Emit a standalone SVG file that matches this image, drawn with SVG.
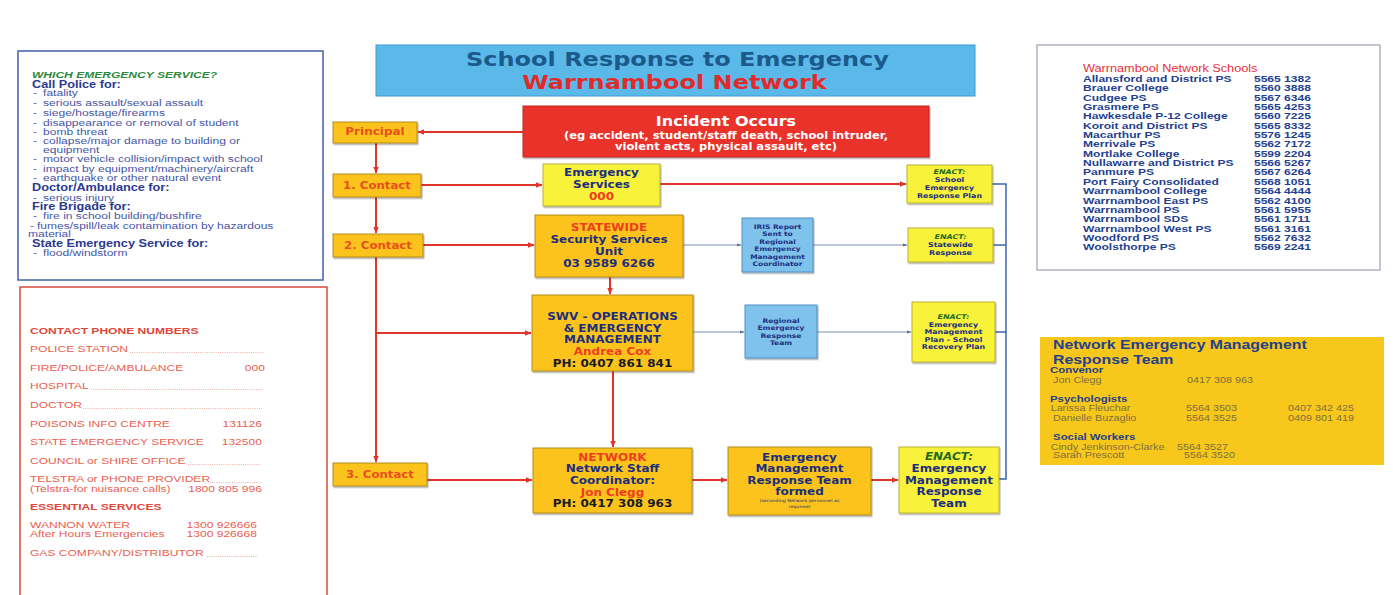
<svg xmlns="http://www.w3.org/2000/svg" width="1393" height="595" viewBox="0 0 1393 595">
<style>
.f{font-family:"DejaVu Sans",sans-serif;font-weight:bold}
.fr{font-family:"DejaVu Sans",sans-serif}
.a{font-family:"Liberation Sans",Arial,sans-serif}
.ab{font-family:"Liberation Sans",Arial,sans-serif;font-weight:bold}
.nv{fill:#1c2f7e}
.rd{fill:#ee3d1f}
.bk{fill:#1a1a28}
.gn{fill:#1e6a22;font-style:italic}
.lbl{fill:#e8501c}
.or{fill:#fbc31c;stroke:#b08d22;stroke-width:1}
.ye{fill:#f9f23b;stroke:#b9b030;stroke-width:1}
.bl{fill:#7fc2ec;stroke:#4f8fc4;stroke-width:1}
.sh{filter:url(#sh)}
.red{stroke:#e0352b;stroke-width:2;fill:none}
.gry{stroke:#7a8fb0;stroke-width:1;fill:none}
.bus{stroke:#3b64b0;stroke-width:1.5;fill:none}
.dots{stroke:#e9a090;stroke-width:0.9;stroke-dasharray:0.9 1.3}
.lt{fill:#4656a6}
.lh{fill:#2b3990}
.pr{fill:#e8604f}
.pb{fill:#e0453a}
.sc{fill:#233f8f}
.ym{fill:#7d7040}
.yh{fill:#24408a}
</style>
<defs>
<filter id="sh" x="-10%" y="-10%" width="130%" height="130%"><feDropShadow dx="1" dy="1.5" stdDeviation="0.7" flood-color="#000" flood-opacity="0.3"/></filter>
<marker id="ar" viewBox="0 0 10 10" refX="9" refY="5" markerWidth="3.5" markerHeight="3.5" orient="auto"><path d="M0,1 L10,5 L0,9z" fill="#e0352b"/></marker>
<marker id="ag" viewBox="0 0 10 10" refX="9" refY="5" markerWidth="5" markerHeight="5" orient="auto"><path d="M0,1.5 L10,5 L0,8.5z" fill="#5a6f98"/></marker>
</defs>
<rect width="1393" height="595" fill="#fff"/>

<!-- Left top panel -->
<g id="which-service">
<rect x="18" y="51" width="305" height="229" fill="#fff" stroke="#4060a8" stroke-width="1.5"/>
<g transform="matrix(1.27 0 0 1 -8.64 0)" font-size="9.5">
<text class="ab gn" x="32" y="78.4" style="fill:#2d8a3a">WHICH EMERGENCY SERVICE?</text>
<text class="ab lh" x="32" y="88.5" font-size="10">Call Police for:</text>
<g class="a lt">
<text x="32.8" y="96.5">-</text><text x="40.7" y="96.5">fatality</text>
<text x="32.8" y="106.5">-</text><text x="40.7" y="106.5">serious assault/sexual assault</text>
<text x="32.8" y="116.5">-</text><text x="40.7" y="116.5">siege/hostage/firearms</text>
<text x="32.8" y="126.5">-</text><text x="40.7" y="126.5">disappearance or removal of student</text>
<text x="32.8" y="135.5">-</text><text x="40.7" y="135.5">bomb threat</text>
<text x="32.8" y="144.5">-</text><text x="40.7" y="144.5">collapse/major damage to building or</text>
<text x="40.7" y="153.5">equipment</text>
<text x="32.8" y="162.5">-</text><text x="40.7" y="162.5">motor vehicle collision/impact with school</text>
<text x="32.8" y="172.5">-</text><text x="40.7" y="172.5">impact by equipment/machinery/aircraft</text>
<text x="32.8" y="181.5">-</text><text x="40.7" y="181.5">earthquake or other natural event</text>
</g>
<text class="ab lh" x="32" y="191.5" font-size="10">Doctor/Ambulance for:</text>
<g class="a lt">
<text x="32.8" y="201.5">-</text><text x="40.7" y="201.5">serious injury</text>
</g>
<text class="ab lh" x="32" y="210.5" font-size="10">Fire Brigade for:</text>
<g class="a lt">
<text x="32.8" y="219.5">-</text><text x="40.7" y="219.5">fire in school building/bushfire</text>
<text x="30.4" y="229.5">-</text><text x="35.9" y="229.5">fumes/spill/leak contamination by hazardous</text>
<text x="28.9" y="237.5">material</text>
</g>
<text class="ab lh" x="32" y="247.5" font-size="10">State Emergency Service for:</text>
<g class="a lt">
<text x="32.8" y="256.5">-</text><text x="40.7" y="256.5">flood/windstorm</text>
</g>
</g>
</g>

<!-- Left bottom panel -->
<g id="contact-numbers">
<rect x="20" y="287" width="307" height="320" fill="#fff" stroke="#d84a3c" stroke-width="1.5"/>
<g class="dots">
<line x1="130" y1="352.5" x2="263" y2="352.5"/>
<line x1="91" y1="389.5" x2="263" y2="389.5"/>
<line x1="83" y1="408.5" x2="263" y2="408.5"/>
<line x1="188" y1="464.5" x2="260" y2="464.5"/>
<line x1="210" y1="482.5" x2="262" y2="482.5"/>
<line x1="207" y1="556.5" x2="258" y2="556.5"/>
</g>
<g transform="matrix(1.27 0 0 1 -8.1 0)" font-size="9.5">
<text class="ab pb" x="30" y="334.5">CONTACT PHONE NUMBERS</text>
<g class="a pr">
<text x="30" y="352.5">POLICE STATION</text>
<text x="30" y="371.5">FIRE/POLICE/AMBULANCE</text><text x="215" y="371.5" text-anchor="end">000</text>
<text x="30" y="389.5">HOSPITAL</text>
<text x="30" y="408.5">DOCTOR</text>
<text x="30" y="427.5">POISONS INFO CENTRE</text><text x="212.6" y="427.5" text-anchor="end">131126</text>
<text x="30" y="445.5">STATE EMERGENCY SERVICE</text><text x="212.6" y="445.5" text-anchor="end">132500</text>
<text x="30" y="464.5">COUNCIL or SHIRE OFFICE</text>
<text x="30" y="482.5">TELSTRA or PHONE PROVIDER</text>
<text x="30" y="492.5">(Telstra-for nuisance calls)</text><text x="212.6" y="492.5" text-anchor="end">1800 805 996</text>
</g>
<text class="ab pb" x="30" y="510.5">ESSENTIAL SERVICES</text>
<g class="a pr">
<text x="30" y="528.5">WANNON WATER</text><text x="208.7" y="528.5" text-anchor="end">1300 926666</text>
<text x="30" y="537.5">After Hours Emergencies</text><text x="208.7" y="537.5" text-anchor="end">1300 926668</text>
<text x="30" y="556.5">GAS COMPANY/DISTRIBUTOR</text>
</g>
</g>
</g>

<!-- Right top panel -->
<g id="network-schools">
<rect x="1037" y="45" width="343" height="225" fill="#fff" stroke="#9aa0b0" stroke-width="1.2"/>
<g transform="matrix(1.27 0 0 1 -292.41 0)">
<text class="a" x="1083" y="72" font-size="10" fill="#e8303a">Warrnambool Network Schools</text>
<g class="ab sc" font-size="9.5">
<text x="1083" y="82">Allansford and District PS</text><text x="1217.6" y="82">5565 1382</text>
<text x="1083" y="91.35">Brauer College</text><text x="1217.6" y="91.35">5560 3888</text>
<text x="1083" y="100.7">Cudgee PS</text><text x="1217.6" y="100.7">5567 6346</text>
<text x="1083" y="110.05">Grasmere PS</text><text x="1217.6" y="110.05">5565 4253</text>
<text x="1083" y="119.4">Hawkesdale P-12 College</text><text x="1217.6" y="119.4">5560 7225</text>
<text x="1083" y="128.75">Koroit and District PS</text><text x="1217.6" y="128.75">5565 8332</text>
<text x="1083" y="138.1">Macarthur PS</text><text x="1217.6" y="138.1">5576 1245</text>
<text x="1083" y="147.45">Merrivale PS</text><text x="1217.6" y="147.45">5562 7172</text>
<text x="1083" y="156.8">Mortlake College</text><text x="1217.6" y="156.8">5599 2204</text>
<text x="1083" y="166.15">Nullawarre and District PS</text><text x="1217.6" y="166.15">5566 5267</text>
<text x="1083" y="175.5">Panmure PS</text><text x="1217.6" y="175.5">5567 6264</text>
<text x="1083" y="184.85">Port Fairy Consolidated</text><text x="1217.6" y="184.85">5568 1051</text>
<text x="1083" y="194.2">Warrnambool College</text><text x="1217.6" y="194.2">5564 4444</text>
<text x="1083" y="203.55">Warrnambool East PS</text><text x="1217.6" y="203.55">5562 4100</text>
<text x="1083" y="212.9">Warrnambool PS</text><text x="1217.6" y="212.9">5561 5955</text>
<text x="1083" y="222.25">Warrnambool SDS</text><text x="1217.6" y="222.25">5561 1711</text>
<text x="1083" y="231.6">Warrnambool West PS</text><text x="1217.6" y="231.6">5561 3161</text>
<text x="1083" y="240.95">Woodford PS</text><text x="1217.6" y="240.95">5562 7632</text>
<text x="1083" y="250.3">Woolsthorpe PS</text><text x="1217.6" y="250.3">5569 2241</text>
</g>
</g>
</g>

<!-- Right bottom panel -->
<g id="network-emrt">
<rect x="1040" y="337" width="344" height="128" fill="#f8c71b"/>
<g transform="matrix(1.27 0 0 1 -283.5 0)">
<text class="ab yh" x="1052.4" y="349.5" font-size="12.5">Network Emergency Management</text>
<text class="ab yh" x="1052.4" y="364.5" font-size="12.5">Response Team</text>
<text class="ab yh" x="1050" y="373" font-size="9">Convenor</text>
<text class="a ym" x="1052.4" y="383.5" font-size="8.5">Jon Clegg</text><text class="a ym" x="1157.9" y="383.5" font-size="8.5">0417 308 963</text>
<text class="ab yh" x="1050" y="402" font-size="9">Psychologists</text>
<text class="a ym" x="1050.5" y="411.5" font-size="8.5">Larissa Fleuchar</text><text class="a ym" x="1157.1" y="411.5" font-size="8.5">5564 3503</text><text class="a ym" x="1237.4" y="411.5" font-size="8.5">0407 342 425</text>
<text class="a ym" x="1052.4" y="421" font-size="8.5">Danielle Buzaglio</text><text class="a ym" x="1157.1" y="421" font-size="8.5">5564 3525</text><text class="a ym" x="1237.4" y="421" font-size="8.5">0409 801 419</text>
<text class="ab yh" x="1052.4" y="440" font-size="9">Social Workers</text>
<text class="a ym" x="1050.5" y="450" font-size="8.5">Cindy Jenkinson-Clarke</text><text class="a ym" x="1150" y="450" font-size="8.5">5564 3527</text>
<text class="a ym" x="1052.4" y="458.5" font-size="8.5">Sarah Prescott</text><text class="a ym" x="1155.5" y="458.5" font-size="8.5">5564 3520</text>
</g>
</g>

<!-- Connectors -->
<g id="connectors">
<line class="red" x1="523" y1="132" x2="418" y2="132" marker-end="url(#ar)"/>
<line class="red" x1="376" y1="143" x2="376" y2="173" marker-end="url(#ar)"/>
<line class="red" x1="376" y1="197" x2="376" y2="233" marker-end="url(#ar)"/>
<line class="red" x1="376" y1="257" x2="376" y2="462" marker-end="url(#ar)"/>
<line class="red" x1="376" y1="333" x2="531" y2="333" marker-end="url(#ar)"/>
<line class="red" x1="421" y1="185" x2="542" y2="185" marker-end="url(#ar)"/>
<line class="red" x1="660" y1="184" x2="906" y2="184" marker-end="url(#ar)"/>
<line class="red" x1="423" y1="245" x2="534" y2="245" marker-end="url(#ar)"/>
<line class="gry" x1="683" y1="245" x2="741" y2="245" marker-end="url(#ag)"/>
<line class="gry" x1="813" y1="245" x2="907" y2="245" marker-end="url(#ag)"/>
<line class="red" x1="610" y1="277" x2="610" y2="294" marker-end="url(#ar)"/>
<line class="gry" x1="693" y1="332" x2="744" y2="332" marker-end="url(#ag)"/>
<line class="gry" x1="817" y1="332" x2="911" y2="332" marker-end="url(#ag)"/>
<line class="red" x1="613" y1="371" x2="613" y2="447" marker-end="url(#ar)"/>
<line class="red" x1="427" y1="480" x2="532" y2="480" marker-end="url(#ar)"/>
<line class="red" x1="692" y1="480" x2="727" y2="480" marker-end="url(#ar)"/>
<line class="red" x1="871" y1="480" x2="898" y2="480" marker-end="url(#ar)"/>
<polyline class="bus" points="992,184 1006,184 1006,479 999,479"/>
<line class="bus" x1="993" y1="245" x2="1006" y2="245"/>
<line class="bus" x1="995" y1="332" x2="1006" y2="332"/>
</g>

<!-- Title -->
<g id="title">
<rect x="376" y="45" width="599" height="51" fill="#5bb9ea" stroke="#3f9ad0" stroke-width="1"/>
<g transform="matrix(1.2 0 0 1 -135.5 0)">
<text class="f" x="677.5" y="66.5" font-size="20" text-anchor="middle" fill="#1c5a8c">School Response to Emergency</text>
<text class="f" x="675" y="89" font-size="20" text-anchor="middle" fill="#e02b2b">Warrnambool Network</text>
</g>
</g>

<g id="incident">
<rect class="sh" x="523" y="106" width="406" height="51" fill="#e8312a" stroke="#c42420" stroke-width="1"/>
<g transform="matrix(1.2 0 0 1 -145.2 0)" fill="#fff" text-anchor="middle">
<text class="f" x="726" y="125.8" font-size="13.3">Incident Occurs</text>
<text class="f" x="726" y="139.5" font-size="9.6">(eg accident, student/staff death, school intruder,</text>
<text class="f" x="726" y="150" font-size="9.6">violent acts, physical assault, etc)</text>
</g>
</g>

<g id="principal">
<rect class="or sh" x="333" y="122" width="84" height="21"/>
<g transform="matrix(1.2 0 0 1 -75 0)"><text class="f lbl" x="375" y="135.5" font-size="10" text-anchor="middle">Principal</text></g>
</g>
<g id="contact1">
<rect class="or sh" x="333" y="174" width="88" height="23"/>
<g transform="matrix(1.2 0 0 1 -75.4 0)"><text class="f lbl" x="377" y="189" font-size="9.8" text-anchor="middle">1. Contact</text></g>
</g>
<g id="contact2">
<rect class="or sh" x="333" y="234" width="90" height="23"/>
<g transform="matrix(1.2 0 0 1 -75.6 0)"><text class="f lbl" x="378" y="249" font-size="9.8" text-anchor="middle">2. Contact</text></g>
</g>
<g id="contact3">
<rect class="or sh" x="333" y="463" width="94" height="23"/>
<g transform="matrix(1.2 0 0 1 -76 0)"><text class="f lbl" x="380" y="478" font-size="9.8" text-anchor="middle">3. Contact</text></g>
</g>

<g id="emergency-services">
<rect class="ye sh" x="543" y="164" width="117" height="42"/>
<g transform="matrix(1.2 0 0 1 -120.3 0)" text-anchor="middle" font-size="10">
<text class="f nv" x="601.5" y="176.5">Emergency</text>
<text class="f nv" x="601.5" y="188.5">Services</text>
<text class="f rd" x="601.5" y="200.5">000</text>
</g>
</g>

<g id="statewide">
<rect class="or sh" x="535" y="215" width="148" height="62"/>
<g transform="matrix(1.2 0 0 1 -121.8 0)" text-anchor="middle" font-size="10">
<text class="f rd" x="609" y="231.5">STATEWIDE</text>
<text class="f nv" x="609" y="243.5">Security Services</text>
<text class="f nv" x="609" y="255.5">Unit</text>
<text class="f nv" x="609" y="267">03 9589 6266</text>
</g>
</g>

<g id="swv">
<rect class="or sh" x="532" y="295" width="161" height="76"/>
<g transform="matrix(1.2 0 0 1 -122.5 0)" text-anchor="middle" font-size="10">
<text class="f nv" x="612.5" y="320.5">SWV - OPERATIONS</text>
<text class="f nv" x="612.5" y="332.5">&amp; EMERGENCY</text>
<text class="f nv" x="612.5" y="343.5">MANAGEMENT</text>
<text class="f rd" x="612.5" y="355.5">Andrea Cox</text>
<text class="f bk" x="612.5" y="366.5">PH: 0407 861 841</text>
</g>
</g>

<g id="network">
<rect class="or sh" x="533" y="448" width="159" height="65"/>
<g transform="matrix(1.2 0 0 1 -122.5 0)" text-anchor="middle" font-size="10">
<text class="f rd" x="612.5" y="461.5">NETWORK</text>
<text class="f nv" x="612.5" y="472.5">Network Staff</text>
<text class="f nv" x="612.5" y="484.5">Coordinator:</text>
<text class="f rd" x="612.5" y="496.5">Jon Clegg</text>
<text class="f bk" x="612.5" y="507.5">PH: 0417 308 963</text>
</g>
</g>

<g id="emrt-formed">
<rect class="or sh" x="728" y="447" width="143" height="68"/>
<g transform="matrix(1.2 0 0 1 -159.9 0)" text-anchor="middle" font-size="10">
<text class="f nv" x="799.5" y="461.5">Emergency</text>
<text class="f nv" x="799.5" y="472.5">Management</text>
<text class="f nv" x="799.5" y="484.5">Response Team</text>
<text class="f nv" x="799.5" y="495.5">formed</text>
<text class="fr nv" x="799.5" y="502.5" font-size="4">(seconding Network personnel as</text>
<text class="fr nv" x="799.5" y="508" font-size="4">required)</text>
</g>
</g>

<g id="enact-emrt">
<rect class="ye sh" x="899" y="447" width="100" height="66"/>
<g transform="matrix(1.2 0 0 1 -189.8 0)" text-anchor="middle" font-size="10">
<text class="f gn" x="949" y="460.5">ENACT:</text>
<text class="f nv" x="949" y="472.5">Emergency</text>
<text class="f nv" x="949" y="484.5">Management</text>
<text class="f nv" x="949" y="495.5">Response</text>
<text class="f nv" x="949" y="507.5">Team</text>
</g>
</g>

<g id="enact-school">
<rect class="ye sh" x="907" y="165" width="85" height="38"/>
<g transform="matrix(1.2 0 0 1 -189.9 0)" text-anchor="middle" font-size="6.6">
<text class="f gn" x="949.5" y="174">ENACT:</text>
<text class="f nv" x="949.5" y="182.4">School</text>
<text class="f nv" x="949.5" y="190">Emergency</text>
<text class="f nv" x="949.5" y="198">Response Plan</text>
</g>
</g>

<g id="enact-statewide">
<rect class="ye sh" x="908" y="228" width="85" height="34"/>
<g transform="matrix(1.2 0 0 1 -190.1 0)" text-anchor="middle" font-size="6.6">
<text class="f gn" x="950.5" y="239.4">ENACT:</text>
<text class="f nv" x="950.5" y="247.4">Statewide</text>
<text class="f nv" x="950.5" y="255.4">Response</text>
</g>
</g>

<g id="enact-recovery">
<rect class="ye sh" x="912" y="302" width="83" height="60"/>
<g transform="matrix(1.2 0 0 1 -190.7 0)" text-anchor="middle" font-size="6.6">
<text class="f gn" x="953.5" y="319.4">ENACT:</text>
<text class="f nv" x="953.5" y="326.7">Emergency</text>
<text class="f nv" x="953.5" y="334.1">Management</text>
<text class="f nv" x="953.5" y="341.7">Plan - School</text>
<text class="f nv" x="953.5" y="349.1">Recovery Plan</text>
</g>
</g>

<g id="iris">
<rect class="bl sh" x="742" y="218" width="71" height="54"/>
<g transform="matrix(1.2 0 0 1 -155.5 0)" text-anchor="middle" font-size="6.2">
<text class="f nv" x="777.5" y="229.2">IRIS Report</text>
<text class="f nv" x="777.5" y="236.5">Sent to</text>
<text class="f nv" x="777.5" y="243.9">Regional</text>
<text class="f nv" x="777.5" y="251.5">Emergency</text>
<text class="f nv" x="777.5" y="258.9">Management</text>
<text class="f nv" x="777.5" y="266.5">Coordinator</text>
</g>
</g>

<g id="regional-ert">
<rect class="bl sh" x="745" y="305" width="72" height="53"/>
<g transform="matrix(1.2 0 0 1 -156.2 0)" text-anchor="middle" font-size="6.3">
<text class="f nv" x="781" y="322.9">Regional</text>
<text class="f nv" x="781" y="330.5">Emergency</text>
<text class="f nv" x="781" y="338.2">Response</text>
<text class="f nv" x="781" y="345.5">Team</text>
</g>
</g>
</svg>
